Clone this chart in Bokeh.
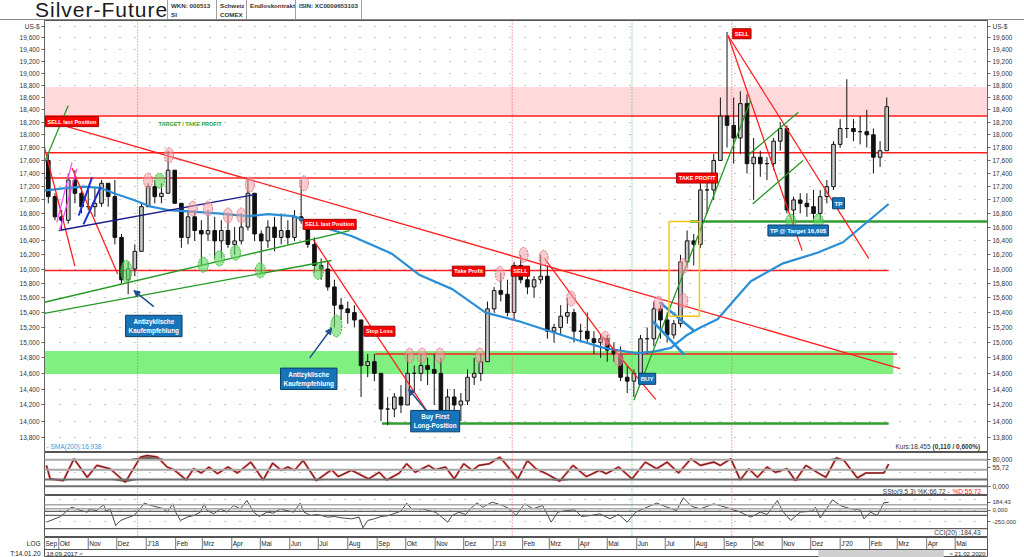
import numpy as np
import pandas as pd
from bokeh.plotting import figure
from bokeh.models import (ColumnDataSource, Range1d, FixedTicker, CustomJSTickFormatter,
                          LogAxis, LinearAxis, Label, Span, Arrow, NormalHead, Div)
from bokeh.layouts import column
from bokeh.embed import file_html
from bokeh.resources import INLINE
from bokeh.core.properties import value

FONT = "Liberation Sans"

# ---------------- weekly price bars (US-$) ----------------
week_start = "2017-09-18"
first_open = 17.60
w_high = [17.70, 17.10, 16.85, 17.40, 17.45, 17.20, 17.15, 17.20, 17.30, 17.25,
          17.30, 16.50, 16.10, 16.35, 16.95, 17.25, 17.30, 17.25, 17.75, 17.45,
          16.95, 16.85, 16.85, 16.70, 16.85, 16.75, 16.70, 16.80, 16.60, 16.80,
          17.30, 17.10, 16.55, 16.70, 16.75, 16.80, 16.70, 16.85, 17.30, 16.70,
          16.45, 16.15, 16.10, 15.85, 15.60, 15.55, 15.50, 15.30, 14.85, 14.85,
          14.60, 14.30, 14.35, 14.45, 14.85, 14.70, 14.85, 14.80, 14.85, 14.80,
          14.40, 14.40, 14.35, 14.65, 14.80, 14.85, 15.55, 15.75, 15.95, 15.85,
          16.10, 16.20, 15.95, 15.90, 16.20, 16.05, 15.25, 15.50, 15.60, 15.45,
          15.25, 15.40, 15.15, 15.10, 15.10, 15.00, 14.95, 14.70, 14.65, 15.10,
          15.20, 15.55, 15.50, 15.40, 15.30, 16.20, 16.55, 16.50, 17.25, 17.35,
          17.70, 18.60, 19.70, 18.60, 18.70, 18.65, 17.95, 17.75, 17.65, 17.95,
          18.20, 18.15, 17.05, 17.10, 17.10, 17.15, 17.15, 17.30, 17.90, 18.25,
          18.90, 18.25, 18.30, 18.40, 18.10, 17.90, 18.60]
w_low = [16.95, 16.70, 16.55, 16.65, 16.95, 16.80, 16.85, 16.75, 16.90, 16.90,
         16.35, 15.80, 15.65, 15.90, 16.25, 16.90, 16.95, 16.95, 17.10, 16.95,
         16.30, 16.35, 16.40, 16.05, 16.40, 16.15, 16.15, 16.30, 16.20, 16.35,
         16.55, 16.40, 15.95, 16.30, 16.25, 16.35, 16.35, 16.40, 16.65, 16.30,
         15.95, 15.85, 15.70, 15.20, 15.30, 15.25, 15.20, 14.30, 14.55, 14.50,
         14.00, 13.95, 14.05, 14.10, 14.20, 14.35, 14.50, 14.45, 14.20, 14.05,
         13.90, 14.05, 14.00, 14.20, 14.45, 14.50, 14.75, 15.40, 15.55, 15.35,
         15.30, 15.80, 15.65, 15.60, 15.80, 15.05, 15.00, 15.10, 15.25, 15.00,
         15.00, 15.00, 14.85, 14.80, 14.75, 14.75, 14.50, 14.35, 14.30, 14.55,
         14.85, 14.95, 15.05, 15.00, 15.05, 15.20, 16.05, 16.05, 16.30, 16.80,
         17.00, 17.60, 17.80, 17.55, 17.70, 17.40, 17.00, 17.35, 17.30, 17.45,
         17.75, 16.80, 16.65, 16.80, 16.75, 16.70, 16.70, 16.95, 17.15, 17.80,
         17.95, 17.90, 17.85, 17.80, 17.40, 17.50, 17.75]
w_close = [17.05, 16.75, 16.70, 17.30, 17.10, 16.90, 16.90, 16.95, 17.25, 17.05,
           16.45, 15.85, 16.00, 16.25, 16.90, 17.20, 17.05, 17.10, 17.45, 16.95,
           16.45, 16.75, 16.55, 16.50, 16.55, 16.40, 16.55, 16.35, 16.40, 16.60,
           17.10, 16.50, 16.40, 16.60, 16.45, 16.55, 16.45, 16.75, 16.70, 16.35,
           16.05, 16.00, 15.75, 15.50, 15.45, 15.40, 15.30, 14.70, 14.75, 14.60,
           14.15, 14.15, 14.30, 14.20, 14.60, 14.60, 14.70, 14.65, 14.60, 14.10,
           14.30, 14.20, 14.25, 14.55, 14.60, 14.75, 15.45, 15.70, 15.65, 15.40,
           16.05, 15.85, 15.75, 15.85, 15.90, 15.15, 15.20, 15.35, 15.40, 15.15,
           15.15, 15.05, 15.00, 15.05, 14.90, 14.85, 14.55, 14.50, 14.60, 15.05,
           15.05, 15.45, 15.30, 15.10, 15.25, 16.10, 16.40, 16.35, 17.15, 17.15,
           17.60, 18.30, 18.15, 17.95, 18.50, 17.55, 17.65, 17.55, 17.55, 17.90,
           18.10, 16.85, 17.00, 16.95, 16.90, 16.80, 17.05, 17.20, 17.85, 18.10,
           18.10, 18.05, 18.05, 18.00, 17.65, 17.75, 18.45]

# SMA(200)
sma_dates = ["2017-09-16", "2017-10-10", "2017-10-27", "2017-11-14", "2017-11-28", "2017-12-19",
             "2018-01-06", "2018-01-24", "2018-02-14", "2018-03-17", "2018-04-18", "2018-05-09",
             "2018-06-05", "2018-07-01", "2018-08-05", "2018-09-16", "2018-10-15", "2018-11-19",
             "2018-12-24", "2019-01-29", "2019-03-26", "2019-04-27", "2019-06-01", "2019-06-19",
             "2019-07-07", "2019-07-24", "2019-08-07", "2019-08-25", "2019-09-11", "2019-09-29",
             "2019-11-02", "2019-12-08", "2020-01-04", "2020-02-21"]
sma_values = [17.14, 17.18, 17.20, 17.18, 17.10, 17.00, 16.90, 16.85, 16.83, 16.80, 16.76, 16.79,
              16.76, 16.62, 16.47, 16.22, 15.92, 15.72, 15.40, 15.28, 15.05, 14.93, 14.86, 14.88,
              14.93, 15.10, 15.20, 15.31, 15.56, 15.83, 16.08, 16.23, 16.38, 16.94]

# horizontal levels
red_level_start = ["2017-09-16", "2017-09-16", "2017-09-16", "2017-09-16", "2018-08-30"]
red_level_end = ["2020-06-04", "2020-06-04", "2019-07-13", "2020-02-21", "2020-03-01"]
red_level_value = [18.30, 17.72, 17.33, 15.98, 14.85]
green_level_start = ["2019-07-27", "2018-09-06"]
green_level_end = ["2020-06-04", "2020-02-21"]
green_level_value = [16.68, 13.97]
pink_zone = {"start": "2017-09-16", "end": "2020-06-04", "low": 18.29, "high": 18.77}
green_zone = {"start": "2017-09-16", "end": "2020-02-26", "low": 14.59, "high": 14.89}

# trend lines
red_tl_d0 = ["2017-10-10", "2017-09-16", "2017-10-15", "2018-06-26", "2019-02-24", "2019-04-27", "2019-09-05", "2019-09-05"]
red_tl_v0 = [18.13, 17.80, 17.48, 16.41, 16.15, 15.07, 19.64, 19.64]
red_tl_d1 = ["2020-03-04", "2017-10-18", "2017-12-02", "2018-10-24", "2019-05-02", "2019-06-21", "2019-11-22", "2020-01-31"]
red_tl_v1 = [14.66, 16.04, 15.93, 14.11, 14.97, 14.27, 16.26, 16.15]
green_tl_d0 = ["2017-09-16", "2017-09-16", "2017-09-16", "2019-05-29", "2019-09-26", "2019-10-01"]
green_tl_v0 = [17.57, 15.54, 15.39, 14.26, 17.68, 16.94]
green_tl_d1 = ["2017-10-11", "2018-08-03", "2018-07-15", "2019-09-29", "2019-11-18", "2019-11-23"]
green_tl_v1 = [18.47, 16.55, 16.12, 18.55, 18.36, 17.60]
navy_tl = {"d0": "2017-10-01", "v0": 16.55, "d1": "2018-04-25", "v1": 17.08}
magenta_tl_d0 = ["2017-09-29", "2017-10-02"]
magenta_tl_v0 = [16.67, 16.55]
magenta_tl_d1 = ["2017-10-15", "2017-10-20"]
magenta_tl_v1 = [17.57, 17.47]
blue_tl_d0 = ["2017-10-22", "2017-10-27"]
blue_tl_v0 = [16.77, 16.64]
blue_tl_d1 = ["2017-11-05", "2017-11-14"]
blue_tl_v1 = [17.34, 17.19]
flag_d0 = ["2019-06-25", "2019-06-18"]
flag_v0 = [15.54, 15.28]
flag_d1 = ["2019-07-31", "2019-07-21"]
flag_v1 = [15.16, 14.84]
yellow_box = {"start": "2019-07-05", "end": "2019-08-06", "low": 15.35, "high": 16.68}

# marked highs / lows
pink_dates = ["2018-01-03", "2018-01-25", "2018-02-19", "2018-03-07", "2018-03-28", "2018-04-11",
              "2018-04-20", "2018-06-16", "2018-10-05", "2018-10-18", "2018-11-06", "2018-12-18",
              "2019-01-08", "2019-02-02", "2019-02-23", "2019-03-24", "2019-04-29", "2019-05-13",
              "2019-06-24", "2019-07-20", "2019-07-20"]
pink_values = [17.29, 17.68, 16.87, 16.87, 16.77, 16.77, 17.23, 17.25, 14.83, 14.83, 14.83, 14.83,
               15.93, 16.20, 16.16, 15.59, 15.05, 14.79, 15.52, 15.56, 16.04]
green_big_dates = ["2017-12-11", "2018-07-20"]
green_big_values = [15.97, 15.22]
green_small_dates = ["2018-01-15", "2018-03-02", "2018-03-19", "2018-04-05", "2018-05-01",
                     "2018-07-01", "2019-11-10", "2019-12-09"]
green_small_values = [17.29, 16.06, 16.15, 16.23, 15.98, 15.96, 16.68, 16.68]

# signal marks
vline_dates = ["2017-12-23", "2019-01-21", "2019-05-27", "2019-09-09"]
vline_kind = ["green", "red", "green", "red"]

red_box_text = ["SELL last Position", "SELL last Position", "Take Profit", "SELL", "Stop Loss",
                "TAKE PROFIT", "SELL"]
red_box_date = ["2017-09-17", "2018-06-15", "2018-11-19", "2019-01-20", "2018-08-18",
                "2019-07-13", "2019-09-10"]
red_box_price = [18.21, 16.64, 15.97, 15.97, 15.15, 17.33, 19.67]
blue_box_text = ["BUY", "TP", "TP @ Target 16,60$"]
blue_box_date = ["2019-06-03", "2019-12-24", "2019-10-17"]
blue_box_price = [14.53, 16.95, 16.55]
blue_box2_text = ["Antizyklische\nKaufempfehlung", "Antizyklische\nKaufempfehlung",
                  "Buy First\nLong-Position"]
blue_box2_date = ["2018-01-09", "2018-06-21", "2018-11-01"]
blue_box2_price = [15.22, 14.53, 14.00]

arrow_tail_date = ["2018-01-09", "2018-06-22", "2018-10-24"]
arrow_tail_value = [15.48, 14.80, 14.11]
arrow_head_date = ["2017-12-19", "2018-07-15", "2018-10-04"]
arrow_head_value = [15.70, 15.19, 14.40]

# stochastic %K (9,5,3)
stoch_dates = ["2017-09-18", "2017-09-22", "2017-10-06", "2017-10-17", "2017-10-31", "2017-11-10",
               "2017-11-24", "2017-12-10", "2017-12-26", "2018-01-02", "2018-01-13", "2018-01-23",
               "2018-01-30", "2018-02-12", "2018-02-20", "2018-02-28", "2018-03-08", "2018-03-17",
               "2018-03-28", "2018-04-07", "2018-04-21", "2018-05-04", "2018-05-14", "2018-05-23",
               "2018-05-30", "2018-06-06", "2018-06-15", "2018-06-29", "2018-07-15", "2018-07-22",
               "2018-08-05", "2018-08-23", "2018-09-03", "2018-09-11", "2018-09-24", "2018-10-02",
               "2018-10-11", "2018-10-25", "2018-11-01", "2018-11-12", "2018-11-21", "2018-12-01",
               "2018-12-10", "2018-12-17", "2018-12-28", "2019-01-08", "2019-01-14", "2019-01-27",
               "2019-02-06", "2019-02-15", "2019-02-26", "2019-03-12", "2019-03-26", "2019-04-09",
               "2019-04-23", "2019-04-30", "2019-05-13", "2019-05-27", "2019-06-10", "2019-06-22",
               "2019-07-03", "2019-07-15", "2019-07-28", "2019-08-07", "2019-08-21", "2019-08-28",
               "2019-09-08", "2019-09-18", "2019-09-27", "2019-10-06", "2019-10-16", "2019-10-25",
               "2019-11-06", "2019-11-15", "2019-11-26", "2019-12-10", "2019-12-17", "2019-12-28",
               "2020-01-05", "2020-01-19", "2020-01-28", "2020-02-16", "2020-02-21"]
stoch_k = [63, 22, 17, 83, 27, 63, 53, 12, 88, 93, 88, 58, 50, 19, 53, 40, 58, 38, 58, 40,
           73, 19, 70, 48, 58, 48, 78, 17, 50, 29, 48, 22, 42, 19, 39, 68, 42, 63, 50, 58,
           22, 68, 48, 63, 68, 88, 68, 22, 78, 53, 38, 15, 63, 29, 48, 38, 58, 22, 73, 53,
           73, 40, 83, 63, 73, 63, 83, 19, 53, 27, 58, 42, 53, 17, 63, 38, 27, 86, 78, 25,
           40, 40, 67]
stoch_levels = [80, 50, 20, 0]
stoch_ticks = [0, 55.72, 80]

# CCI(20)
cci_dates = ["2017-09-18", "2017-10-03", "2017-10-12", "2017-10-15", "2017-10-24", "2017-10-31",
             "2017-11-02", "2017-11-05", "2017-11-10", "2017-11-14", "2017-11-17", "2017-11-20",
             "2017-11-24", "2017-11-30", "2017-12-05", "2017-12-12", "2017-12-19", "2017-12-24",
             "2017-12-30", "2018-01-06", "2018-01-13", "2018-01-20", "2018-01-23", "2018-01-29",
             "2018-02-01", "2018-02-06", "2018-02-13", "2018-02-20", "2018-02-27", "2018-03-03",
             "2018-03-06", "2018-03-13", "2018-03-20", "2018-03-27", "2018-04-03", "2018-04-10",
             "2018-04-17", "2018-04-24", "2018-04-30", "2018-05-08", "2018-05-15", "2018-05-22",
             "2018-05-29", "2018-06-05", "2018-06-12", "2018-06-16", "2018-06-23", "2018-06-30",
             "2018-07-11", "2018-07-18", "2018-07-25", "2018-08-05", "2018-08-13", "2018-08-17",
             "2018-08-22", "2018-08-29", "2018-09-05", "2018-09-12", "2018-09-26", "2018-10-02",
             "2018-10-07", "2018-10-18", "2018-10-25", "2018-11-01", "2018-11-08", "2018-11-14",
             "2018-11-19", "2018-11-26", "2018-12-03", "2018-12-08", "2018-12-15", "2018-12-21",
             "2018-12-31", "2019-01-11", "2019-01-18", "2019-01-25", "2019-02-03", "2019-02-12",
             "2019-02-22", "2019-03-03", "2019-03-10", "2019-03-19", "2019-03-28", "2019-04-04",
             "2019-04-14", "2019-04-23", "2019-05-04", "2019-05-13", "2019-05-22", "2019-05-31",
             "2019-06-12", "2019-06-22", "2019-07-03", "2019-07-13", "2019-07-20", "2019-07-29",
             "2019-08-07", "2019-08-21", "2019-09-08", "2019-09-18", "2019-09-29", "2019-10-09",
             "2019-10-16", "2019-10-27", "2019-11-01", "2019-11-10", "2019-11-20", "2019-12-03",
             "2019-12-06", "2019-12-11", "2019-12-24", "2020-01-01", "2020-01-12", "2020-01-22",
             "2020-01-26", "2020-02-02", "2020-02-09", "2020-02-16", "2020-02-21"]
cci_values = [-259, -133, 37, 74, 0, -37, 37, 15, 0, 74, 133, -15, 37, -333, -222, -163, -111, 0,
              163, 111, 74, 37, -37, 148, -37, -222, -148, -111, -37, 148, 0, -74, 37, -37, 111, 37,
              222, -37, -133, -37, -59, 37, 0, -37, 163, -37, -111, -89, -148, -133, -163, -185,
              -148, -385, -222, -185, -133, -118, -15, 163, 37, 37, 0, -37, -148, -259, -111, -37,
              -89, 37, 170, 74, 185, 111, 37, -111, 148, 37, 111, -259, -37, 0, 15, -133, -111, -74,
              -185, -89, -259, -37, 74, 163, 74, 0, 281, 89, 37, 148, 37, -37, -148, -37, -89, 222,
              0, -222, -37, -15, 74, -163, 237, 111, 37, 15, -185, -37, -111, 170, 184]
cci_levels_grey = [125, 40]
cci_levels_dark = [-20, -110, -405]
cci_ticks = [-250, 0, 184.43]

# price axis ticks and month labels
y_ticks = [13.8, 14.0, 14.2, 14.4, 14.6, 14.8, 15.0, 15.2, 15.4, 15.6, 15.8, 16.0, 16.2, 16.4,
           16.6, 16.8, 17.0, 17.2, 17.4, 17.6, 17.8, 18.0, 18.2, 18.4, 18.6, 18.8, 19.0, 19.2,
           19.4, 19.6, 19.8]
month_dates = ["2017-09-16", "2017-10-01", "2017-11-01", "2017-12-01", "2018-01-01", "2018-02-01",
               "2018-03-01", "2018-04-01", "2018-05-01", "2018-06-01", "2018-07-01", "2018-08-01",
               "2018-09-01", "2018-10-01", "2018-11-01", "2018-12-01", "2019-01-01", "2019-02-01",
               "2019-03-01", "2019-04-01", "2019-05-01", "2019-06-01", "2019-07-01", "2019-08-01",
               "2019-09-01", "2019-10-01", "2019-11-01", "2019-12-01", "2020-01-01", "2020-02-01",
               "2020-03-01", "2020-04-01", "2020-05-01"]
month_labels = ["Sep", "Okt", "Nov", "Dez", "J'18", "Feb", "Mrz", "Apr", "Mai", "Jun", "Jul", "Aug",
                "Sep", "Okt", "Nov", "Dez", "J'19", "Feb", "Mrz", "Apr", "Mai", "Jun", "Jul", "Aug",
                "Sep", "Okt", "Nov", "Dez", "J'20", "Feb", "Mrz", "Apr", "Mai"]

title_text = "Silver-Future"
header_cells = [("WKN: 000513", "SI"), ("Schweiz", "COMEX"), ("Endloskontrakt", ""),
                ("ISIN: XC0009653103", ""), ("", "")]
range_from = "18.09.2017 <"
range_to = "> 21.02.2020"
scroll_start, scroll_end = "2019-12-09", "2020-04-19"
scale_label = "LOG"
time_stamp = "T:14.01.20"

# ---------------- helpers ----------------
def ms(s):
    return pd.Timestamp(s).value / 1e6

def dts(lst):
    return pd.to_datetime(lst)

X_START = pd.Timestamp("2017-09-16")
X_END = pd.Timestamp("2020-06-04")
xr = Range1d(X_START, X_END)

W = 1024
BL, BR = 44, 37
HAS_PAD = "padding" in Label.properties()
PAD2 = {"padding": 2} if HAS_PAD else {}
PAD3 = {"padding": 3} if HAS_PAD else {}
CSS_FONT = "font-family:'Liberation Sans',Arial,sans-serif;"

def base_fig(h, y_range, **kw):
    p = figure(width=W, height=h, x_range=xr, y_range=y_range, x_axis_type="datetime",
               output_backend="svg", toolbar_location=None,
               min_border_left=BL, min_border_right=BR, min_border_top=0, min_border_bottom=0,
               x_axis_location=None, **kw)
    p.outline_line_color = "#555555"
    p.background_fill_color = "white"
    p.border_fill_color = "white"
    p.xgrid.visible = False
    return p

def style_axis(ax, fmt_code, size="6.5px"):
    ax.formatter = CustomJSTickFormatter(code=fmt_code)
    ax.major_label_text_font = FONT
    ax.major_label_text_font_size = size
    ax.major_label_text_color = "#333333"
    ax.major_tick_out = 3
    ax.major_tick_in = 0
    ax.minor_tick_out = 0
    ax.minor_tick_in = 0
    ax.axis_line_color = "#666666"
    ax.major_tick_line_color = "#666666"
    ax.major_label_standoff = 2

NUM_FMT = ("if (Math.abs(tick - Math.round(tick)) > 0.001) { return tick.toFixed(2).replace('.', ','); }"
           " return tick.toFixed(3).replace('.', ',');")
PRICE_FMT = "if (tick > 19.7) { return 'US-$'; } return tick.toFixed(3).replace('.', ',');"

# ---------------- header (HTML) ----------------
cell_left = [167, 216, 246, 295, 361]
cell_w = [49, 30, 49, 66, 60]
cells_html = ""
for (r1, r2), lft, cw in zip(header_cells, cell_left, cell_w):
    cells_html += (f"<div style='position:absolute;left:{lft}px;top:0;width:{cw}px;height:19px;"
                   f"border-left:1px solid #a0a0a0;box-sizing:border-box;padding:1px 0 0 3px;"
                   f"font-size:6.2px;font-weight:bold;line-height:9px;color:#333;white-space:nowrap;"
                   f"overflow:hidden;'>{r1}<br>{r2}</div>")
header_html = (f"<div style='position:relative;width:{W}px;height:20px;box-sizing:border-box;"
               f"border-bottom:1px solid #888;{CSS_FONT}'>"
               f"<div style='position:absolute;left:35px;top:0px;height:20px;font-size:21px;"
               f"letter-spacing:1px;line-height:20px;color:#1a1a1a;white-space:nowrap;'>{title_text}</div>"
               f"{cells_html}</div>")
header = Div(text=header_html, width=W, height=20, margin=0)

# ---------------- main price chart ----------------
main = base_fig(432, Range1d(13.62, 19.90), y_axis_type="log", y_axis_location="left")
style_axis(main.yaxis[0], PRICE_FMT)
main.yaxis[0].ticker = FixedTicker(ticks=y_ticks)
ax_r = LogAxis()
ax_r.ticker = FixedTicker(ticks=y_ticks)
style_axis(ax_r, PRICE_FMT)
main.add_layout(ax_r, "right")
main.ygrid.ticker = FixedTicker(ticks=y_ticks)
main.ygrid.grid_line_color = "#8a8a8a"
main.ygrid.grid_line_dash = "1 14"
main.ygrid.grid_line_width = 1

main.quad(left=[pd.Timestamp(pink_zone["start"])], right=[pd.Timestamp(pink_zone["end"])],
          bottom=[pink_zone["low"]], top=[pink_zone["high"]], fill_color="#ffd9dc", line_color=None)
main.quad(left=[pd.Timestamp(green_zone["start"])], right=[pd.Timestamp(green_zone["end"])],
          bottom=[green_zone["low"]], top=[green_zone["high"]], fill_color="#80f080", line_color=None)

main.segment(x0=dts(red_level_start), x1=dts(red_level_end), y0=red_level_value, y1=red_level_value,
             line_color="#ff2020", line_width=1.6)
main.segment(x0=dts(green_level_start), x1=dts(green_level_end), y0=green_level_value,
             y1=green_level_value, line_color="#2e9e2e", line_width=2.5)

def add_vlines(p):
    for d, k in zip(vline_dates, vline_kind):
        p.add_layout(Span(location=ms(d), dimension="height",
                          line_color="#3cb43c" if k == "green" else "#ff5050",
                          line_dash="1 2", line_width=1))

add_vlines(main)

wk = pd.date_range(week_start, periods=len(w_close), freq="7D") + pd.Timedelta(days=2)
opens = [first_open] + w_close[:-1]
cs = ColumnDataSource(dict(x=wk, h=w_high, l=w_low,
                           top=np.maximum(opens, w_close), bot=np.minimum(opens, w_close),
                           fill=["#c8c8c8" if c >= o else "#111111" for o, c in zip(opens, w_close)]))
main.segment(x0="x", x1="x", y0="l", y1="h", source=cs, line_color="#111111", line_width=1)
main.vbar(x="x", top="top", bottom="bot", width=3.8 * 86400000, source=cs,
          fill_color="fill", line_color="#111111", line_width=1)

main.line(dts(sma_dates), sma_values, line_color="#2a8fd6", line_width=2.2)

main.segment(x0=dts(red_tl_d0), y0=red_tl_v0, x1=dts(red_tl_d1), y1=red_tl_v1,
             line_color="#ff2020", line_width=1.3)
main.segment(x0=dts(green_tl_d0), y0=green_tl_v0, x1=dts(green_tl_d1), y1=green_tl_v1,
             line_color="#229a22", line_width=1.3)
main.segment(x0=[pd.Timestamp(navy_tl["d0"])], y0=[navy_tl["v0"]],
             x1=[pd.Timestamp(navy_tl["d1"])], y1=[navy_tl["v1"]], line_color="#1a1a8c", line_width=1.3)
main.segment(x0=dts(magenta_tl_d0), y0=magenta_tl_v0, x1=dts(magenta_tl_d1), y1=magenta_tl_v1,
             line_color="#ff40ff", line_width=1.2)
main.segment(x0=dts(blue_tl_d0), y0=blue_tl_v0, x1=dts(blue_tl_d1), y1=blue_tl_v1,
             line_color="#2030d0", line_width=2)
main.segment(x0=dts(flag_d0), y0=flag_v0, x1=dts(flag_d1), y1=flag_v1,
             line_color="#2a8fd6", line_width=2.6)
main.quad(left=[pd.Timestamp(yellow_box["start"])], right=[pd.Timestamp(yellow_box["end"])],
          bottom=[yellow_box["low"]], top=[yellow_box["high"]],
          fill_color=None, line_color="#f5c518", line_width=1.5)

main.ellipse(x=dts(pink_dates), y=pink_values, width=9, height=15, width_units="screen",
             height_units="screen", fill_color="#f2a0a8", fill_alpha=0.55,
             line_color="#e07080", line_dash="2 1", line_width=1)
main.ellipse(x=dts(green_small_dates), y=green_small_values, width=10, height=15,
             width_units="screen", height_units="screen", fill_color="#5cd65c", fill_alpha=0.6,
             line_color="#3cb43c", line_dash="2 1", line_width=1)
main.ellipse(x=dts(green_big_dates), y=green_big_values, width=11, height=22,
             width_units="screen", height_units="screen", fill_color="#5cd65c", fill_alpha=0.6,
             line_color="#3cb43c", line_dash="2 1", line_width=1)

for d0, v0, d1, v1 in zip(arrow_tail_date, arrow_tail_value, arrow_head_date, arrow_head_value):
    main.add_layout(Arrow(end=NormalHead(size=6, fill_color="#1f4e8c", line_color="#1f4e8c"),
                          x_start=ms(d0), y_start=v0, x_end=ms(d1), y_end=v1,
                          line_color="#1f4e8c", line_width=1.5))

for t, d, v in zip(red_box_text, red_box_date, red_box_price):
    main.add_layout(Label(x=ms(d), y=v, text=t, text_font=FONT, text_font_size="5.6px",
                          text_font_style="bold", text_color="white", text_align="left",
                          text_baseline="middle", background_fill_color="#ff0000",
                          border_line_color="#a00000", border_line_width=1, **PAD2))
for t, d, v in zip(blue_box_text, blue_box_date, blue_box_price):
    main.add_layout(Label(x=ms(d), y=v, text=t, text_font=FONT, text_font_size="6.2px",
                          text_font_style="bold", text_color="white", text_align="left",
                          text_baseline="middle", background_fill_color="#1874b8",
                          border_line_color="#0a3d66", border_line_width=1, **PAD2))
for t, d, v in zip(blue_box2_text, blue_box2_date, blue_box2_price):
    main.add_layout(Label(x=ms(d), y=v, text=t, text_font=FONT, text_font_size="6.4px",
                          text_font_style="bold", text_color="white", text_align="center",
                          text_baseline="middle", background_fill_color="#1874b8",
                          border_line_color="#0a3d66", border_line_width=1, **PAD3))

main.add_layout(Label(x=ms("2018-01-14"), y=18.17, text="TARGET / TAKE PROFIT", text_font=FONT,
                      text_font_size="5.5px", text_font_style="bold", text_color="#2e9e2e",
                      text_align="left", text_baseline="middle"))
main.add_layout(Label(x=2, y=6, x_units="screen", y_units="screen", text="- SMA(200):16,938",
                      text_font=FONT, text_font_size="6.5px", text_color="#3a9ad9",
                      text_align="left", text_baseline="middle"))
main.add_layout(Label(x=886, y=6, x_units="screen", y_units="screen", text="Kurs:18,455",
                      text_font=FONT, text_font_size="6.5px", text_color="#333333",
                      text_align="right", text_baseline="middle"))
main.add_layout(Label(x=888, y=6, x_units="screen", y_units="screen", text="(0,110 / 0,600%)",
                      text_font=FONT, text_font_size="6.5px", text_font_style="bold",
                      text_color="#333333", text_align="left", text_baseline="middle"))

# ---------------- stochastic ----------------
stoch = base_fig(43, Range1d(-28.2, 102.1), y_axis_location="right")
style_axis(stoch.yaxis[0], NUM_FMT)
stoch.yaxis[0].ticker = FixedTicker(ticks=stoch_ticks)
stoch.ygrid.ticker = FixedTicker(ticks=[0, 40, 80])
stoch.ygrid.grid_line_color = "#8a8a8a"
stoch.ygrid.grid_line_dash = "1 14"
for lv in stoch_levels:
    stoch.add_layout(Span(location=lv, dimension="width",
                          line_color="#a8a8a8" if lv >= 50 else "#707070", line_width=2))
add_vlines(stoch)
sk = np.array(stoch_k, dtype=float)
sd = dts(stoch_dates)
stoch.varea(x=sd, y1=np.maximum(sk, 80), y2=80, fill_color="#444444", fill_alpha=0.85)
stoch.varea(x=sd, y1=np.minimum(sk, 20), y2=20, fill_color="#444444", fill_alpha=0.85)
stoch.line(sd, sk, line_color="#ff5050", line_width=2.2)
stoch.line(sd, sk, line_color="#222222", line_width=0.9)
stoch.add_layout(Label(x=907, y=4.5, x_units="screen", y_units="screen",
                       text="SSto(9,5,3) %K:66,72 - ", text_font=FONT, text_font_size="6.5px",
                       text_color="#333333", text_align="right", text_baseline="middle"))
stoch.add_layout(Label(x=908, y=4.5, x_units="screen", y_units="screen", text="%D:55,72",
                       text_font=FONT, text_font_size="6.5px", text_color="#ff2020",
                       text_align="left", text_baseline="middle"))

# ---------------- CCI ----------------
cci = base_fig(42, Range1d(-600, 333), y_axis_location="right")
style_axis(cci.yaxis[0], NUM_FMT, size="6px")
cci.yaxis[0].ticker = FixedTicker(ticks=cci_ticks)
cci.ygrid.ticker = FixedTicker(ticks=[-250, 0, 250])
cci.ygrid.grid_line_color = "#8a8a8a"
cci.ygrid.grid_line_dash = "1 14"
for lv in cci_levels_grey:
    cci.add_layout(Span(location=lv, dimension="width", line_color="#a8a8a8", line_width=1.5))
for lv in cci_levels_dark:
    cci.add_layout(Span(location=lv, dimension="width", line_color="#606060", line_width=1.2))
add_vlines(cci)
cci.line(dts(cci_dates), cci_values, line_color="#333333", line_width=0.9)
cci.add_layout(Label(x=936, y=5, x_units="screen", y_units="screen", text="CCI(20) :184,43",
                     text_font=FONT, text_font_size="6.5px", text_color="#333333",
                     text_align="right", text_baseline="middle"))

# ---------------- month axis row + status row (one figure, 20 px) ----------------
# y: 8..20 = month row, 0..8 = status row
axfig = base_fig(20, Range1d(0, 20), y_axis_location="left")
axfig.ygrid.visible = False
lab_ax = axfig.yaxis[0]
lab_ax.ticker = FixedTicker(ticks=[14, 4])
lab_ax.formatter = CustomJSTickFormatter(
    code=f"return tick > 10 ? '{scale_label}' : '{time_stamp}';")
lab_ax.major_label_text_font = FONT
lab_ax.major_label_text_font_size = "6.5px"
lab_ax.major_label_text_color = "#222222"
lab_ax.major_tick_out = 0
lab_ax.major_tick_in = 0
lab_ax.minor_tick_out = 0
lab_ax.minor_tick_in = 0
lab_ax.axis_line_color = None
lab_ax.major_label_standoff = 4

md = dts(month_dates)
axfig.segment(x0=md, x1=md, y0=[8] * len(md), y1=[20] * len(md), line_color="#777777", line_width=1)
axfig.text(x=md, y=[14] * len(md), text=month_labels, x_offset=1, text_font=value(FONT),
           text_font_size="6.5px", text_color="#222222", text_baseline="middle", text_align="left")
axfig.segment(x0=[X_START], x1=[X_END], y0=[8], y1=[8], line_color="#555555", line_width=1)
axfig.quad(left=[pd.Timestamp(scroll_start)], right=[pd.Timestamp(scroll_end)], bottom=[0.5], top=[7.5],
           fill_color="#cfcfcf", line_color=None)
axfig.text(x=[X_START], y=[4], text=[range_from], x_offset=2, text_font=value(FONT),
           text_font_size="6.2px", text_color="#222222", text_baseline="middle", text_align="left")
axfig.text(x=[X_END], y=[4], text=[range_to], x_offset=-2, text_font=value(FONT),
           text_font_size="6.2px", text_color="#222222", text_baseline="middle", text_align="right")

layout = column(header, main, stoch, cci, axfig, spacing=0)
html = file_html(layout, INLINE, "Silver-Future")
open("out.html", "w").write(html)
